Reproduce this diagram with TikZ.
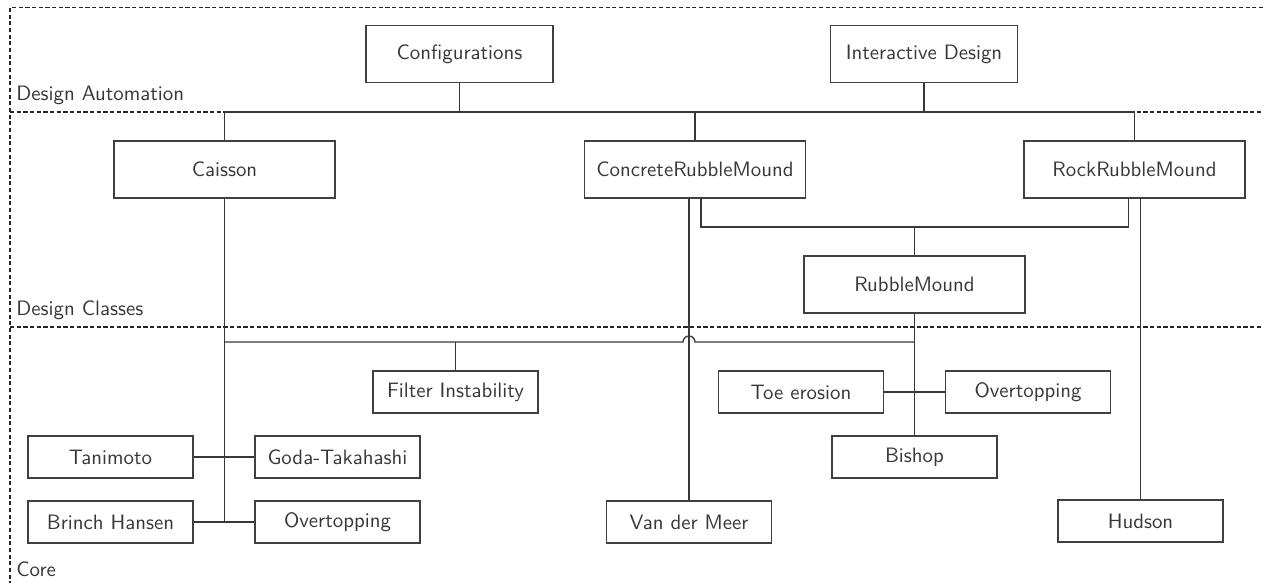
\documentclass[tikz,border=0pt]{standalone}
\usetikzlibrary{calc}
\begin{document}
\begin{tikzpicture}[x=0.48pt,y=-0.48pt,
  every node/.style={font=\sffamily, text=black!78},
  wire/.style={draw=black!78, line width=0.65pt},
  layerline/.style={draw=black!85, line width=0.6pt, dash pattern=on 2pt off 1.2pt},
  layerlabel/.style={anchor=base west, inner sep=0pt},
  bigbox/.style={draw=black!75, line width=0.7pt, inner sep=0pt,
    minimum width=221*0.48pt, minimum height=57*0.48pt},
  topbox/.style={bigbox, minimum width=187*0.48pt},
  smallbox/.style={draw=black!75, line width=0.7pt, inner sep=0pt,
    minimum width=165*0.48pt, minimum height=42*0.48pt}]
\useasboundingbox (0,0) rectangle (1263,583);

% layer separators
\draw[layerline] (1263,7.5) -- (10,7.5) -- (10,583);
\draw[layerline] (10,112) -- (1263,112);
\draw[layerline] (10,327) -- (1263,327);
\node[layerlabel] (lauto) at (16,101) {Design Automation};
\node[layerlabel] (lclass) at (16,316) {Design Classes};
\node[layerlabel] (lcore) at (16,576) {Core};

% design automation
\node[topbox] (conf) at (459.5,54) {Configurations};
\node[topbox] (inter) at (924,54) {Interactive Design};

% design classes
\node[bigbox] (caisson) at (224.5,169.5) {Caisson};
\node[bigbox] (crm) at (695,169.5) {ConcreteRubbleMound};
\node[bigbox] (rrm) at (1134.5,169.5) {RockRubbleMound};
\node[bigbox] (rm) at (914.5,284.5) {RubbleMound};

% core
\node[smallbox] (filter) at (455.5,392) {Filter Instability};
\node[smallbox] (toe) at (801,392) {Toe erosion};
\node[smallbox] (overR) at (1028,392) {Overtopping};
\node[smallbox] (bishop) at (914.5,457) {Bishop};
\node[smallbox] (hudson) at (1140.5,521) {Hudson};
\node[smallbox] (vdm) at (689,522) {Van der Meer};
\node[smallbox] (tanimoto) at (110.5,457) {Tanimoto};
\node[smallbox] (goda) at (337.5,457) {Goda-Takahashi};
\node[smallbox] (brinch) at (110.5,522) {Brinch Hansen};
\node[smallbox] (overL) at (337.5,522) {Overtopping};

\coordinate (bus) at (0,112);
\coordinate (rmbus) at (0,227);
\coordinate (corebus) at (0,342);

% automation bus
\draw[wire] (caisson.north) -- (caisson.north |- bus) -- (rrm.north |- bus) -- (rrm.north);
\draw[wire] (conf.south) -- (conf.south |- bus);
\draw[wire] (inter.south) -- (inter.south |- bus);
\draw[wire] (crm.north) -- (crm.north |- bus);

% rubble mound inheritance
\draw[wire] ($(crm.south)+(6,0)$) -- ($(crm.south |- rmbus)+(6,0)$)
  -- ($(rrm.south |- rmbus)+(-6,0)$) -- ($(rrm.south)+(-6,0)$);
\draw[wire] (rm.north) -- (rm.north |- rmbus);

% direct core links
\draw[wire] ($(crm.south)+(-6,0)$) -- (vdm.north);
\draw[wire] ($(rrm.south)+(6,0)$) -- (hudson.north);

% shared core bus with a jump over the Van der Meer line
\draw[wire] (caisson.south |- corebus) -- (683,342)
  arc[start angle=180, end angle=360, radius=6] -- (rm.south |- corebus);
\draw[wire] (filter.north) -- (filter.north |- corebus);
\draw[wire] (rm.south) -- (bishop.north);
\draw[wire] (toe.east) -- (overR.west);

% caisson core links
\draw[wire] (caisson.south) -- (caisson.south |- brinch.east);
\draw[wire] (tanimoto.east) -- (goda.west);
\draw[wire] (brinch.east) -- (overL.west);
\end{tikzpicture}
\end{document}
